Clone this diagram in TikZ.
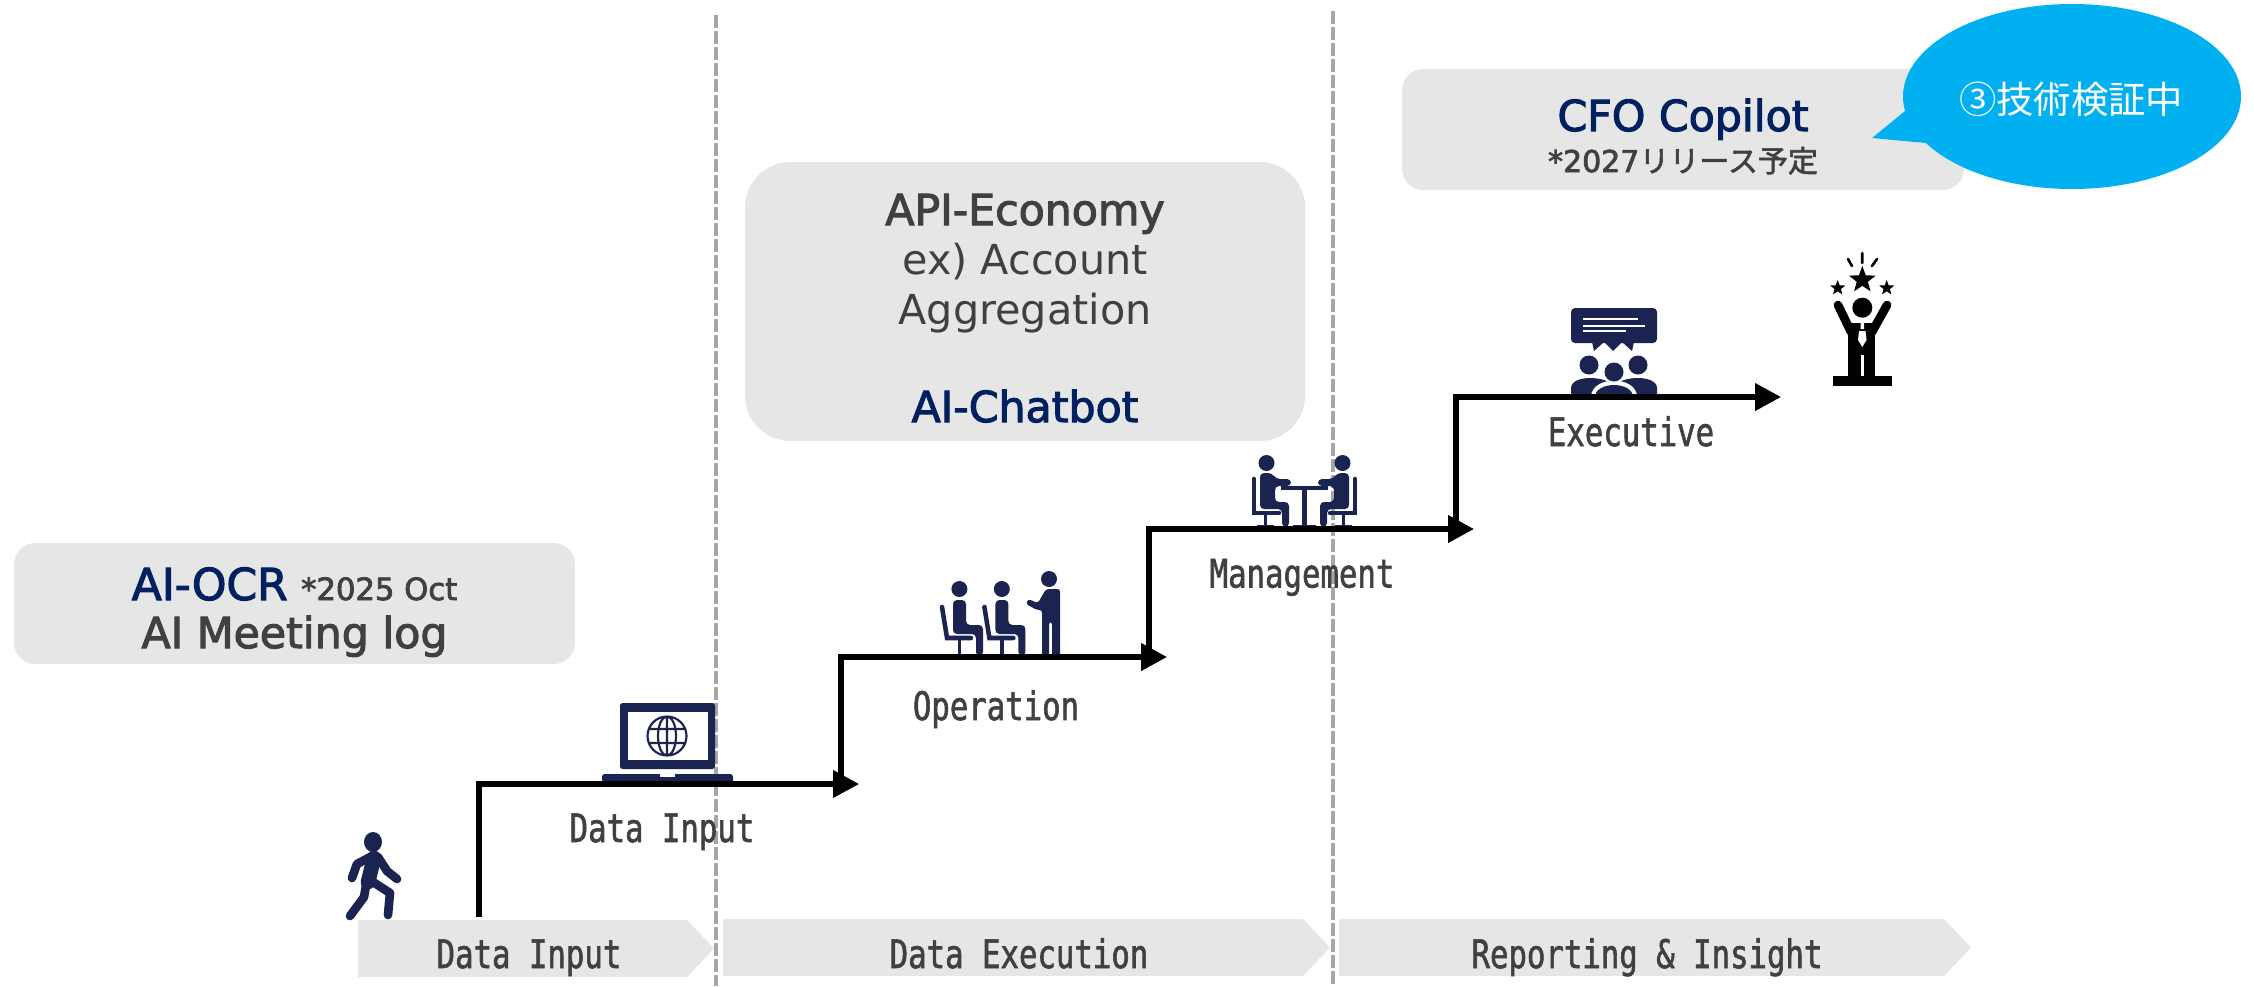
\documentclass[tikz,border=0pt]{standalone}
\usepackage{fontspec}
\usepackage{xcolor}
\usetikzlibrary{arrows.meta,shapes.geometric}
\setmainfont{DejaVu Sans}
\newfontfamily\heavyfont[FakeBold=2.5]{DejaVu Sans}
\newfontfamily\cjkfont{Noto Sans CJK JP}
\newfontfamily\cjkheavy[FakeBold=2]{Noto Sans CJK JP}
\newfontfamily\stagefont[FakeStretch=0.78,FakeBold=1.5]{DejaVu Sans Mono}
\definecolor{boxgray}{HTML}{E6E6E6}
\definecolor{textgray}{HTML}{404040}
\definecolor{titlenavy}{HTML}{002060}
\definecolor{iconnavy}{HTML}{1B2351}
\definecolor{calloutblue}{HTML}{00B0F0}
\definecolor{dashgray}{HTML}{A6A6A6}
\tikzset{
  capbox/.style={fill=boxgray,rounded corners=16pt},
  chevron/.style={fill=boxgray},
  phase/.style={dashgray,line width=3pt,dash pattern=on 9.4pt off 2.6pt},
  stepline/.style={line width=4pt,-{Triangle[length=19.5pt,width=20pt]}},
  steplabel/.style={anchor=base,text=textgray,inner sep=0pt,font=\stagefont\fontsize{29.5}{32}\selectfont},
  title/.style={anchor=base,text=titlenavy,inner sep=0pt,font=\heavyfont\fontsize{32}{36}\selectfont},
  body/.style={anchor=base,text=textgray,inner sep=0pt,font=\heavyfont\fontsize{32}{36}\selectfont},
  plainbody/.style={anchor=base,text=textgray,inner sep=0pt,font=\fontsize{31}{36}\selectfont},
  note/.style={anchor=base,text=textgray,inner sep=0pt,font=\heavyfont\fontsize{22.5}{26}\selectfont},
  limb/.style={iconnavy,line width=6.5pt,line cap=round,line join=round},
  thin limb/.style={iconnavy,line width=3.4pt,line cap=round},
  blackstar/.style={star,star points=5,star point ratio=2.4,fill=black,inner sep=0pt},
}
\begin{document}
\begin{tikzpicture}[x=0.75pt,y=0.75pt,yscale=-1,xscale=1]
\useasboundingbox (0,0) rectangle (2254,986);

%Shape: Phase Dividers
\draw [phase] (715.7,15) -- (715.7,986);
\draw [phase] (1333,11) -- (1333,986);

%Shape: Rounded Boxes
\fill [capbox] (14,543) rectangle (575,664);
\fill [capbox,rounded corners=34pt] (745,162) rectangle (1305,441);
\fill [capbox] (1402,69) rectangle (1964,190);

%Shape: Callout
\fill [calloutblue] (2072,96.5) ellipse (169 and 92.5);
\fill [calloutblue] (1905,111) -- (1872,138) -- (1926,143) -- (2000,120) -- cycle;

%Shape: Chevrons
\fill [chevron] (358,920) -- (687,920) -- (714,948.5) -- (687,977) -- (358,977) -- cycle;
\fill [chevron] (723,919) -- (1303,919) -- (1330,947.5) -- (1303,976) -- (723,976) -- cycle;
\fill [chevron] (1339,919) -- (1944,919) -- (1971,947.5) -- (1944,976) -- (1339,976) -- cycle;

%Shape: Walker
\fill [iconnavy] (373,842) ellipse (9 and 10);
\draw [limb,line width=11pt] (374,858) -- (368,882);
\draw [limb] (374,855) -- (357,864) -- (352,878);
\draw [limb] (378,857) -- (387,871) -- (397,879);
\draw [limb] (367,880) -- (364,897) -- (350,916);
\draw [limb] (370,880) -- (390,893) -- (388,915);

%Shape: Laptop
\fill [iconnavy,rounded corners=2pt] (620,703) rectangle (715,769);
\fill [white] (628,712) rectangle (708,760);
\fill [iconnavy,rounded corners=2pt] (602,774) rectangle (733,784);
\fill [white] (660,774) rectangle (675,777);
\draw [iconnavy,line width=1.6pt] (667,736) circle (19.5) (667,736) ellipse (9 and 19.5) (667,716.5) -- (667,755.5) (649,729) -- (685,729) (649,743) -- (685,743);

%Shape: Seated Listeners
\foreach \seatx in {0,42.4}{
  \fill [iconnavy] (959.4+\seatx,589) circle (8);
  \draw [thin limb] (942+\seatx,607) -- (947+\seatx,638) -- (971+\seatx,638);
  \draw [iconnavy,line width=2.6pt] (959.4+\seatx,638) -- (959.4+\seatx,656);
  \fill [iconnavy,rounded corners=3pt] (953+\seatx,600) -- (966+\seatx,600) -- (966+\seatx,625) -- (983+\seatx,625) -- (983+\seatx,656) -- (976+\seatx,656) -- (976+\seatx,634) -- (953+\seatx,634) -- cycle;
}
%Shape: Presenter
\fill [iconnavy] (1049,579) circle (8);
\fill [iconnavy,rounded corners=2pt] (1046,589) -- (1060,589) -- (1060,656) -- (1052,656) -- (1052,622) -- (1049,622) -- (1049,656) -- (1042,656) -- (1042,610) -- (1037,610) -- (1026,604) -- (1028,599) -- (1038,603) -- cycle;

%Shape: Meeting Pair
\foreach \side/\mirror in {0/1,2609/-1}{
  \begin{scope}[xshift=\side*0.75pt,xscale=\mirror]
    \fill [iconnavy] (1266.5,463) circle (8);
    \fill [iconnavy,rounded corners=3pt] (1260,473) -- (1272,473) -- (1276,479) -- (1291,479) -- (1291,486) -- (1275,486) -- (1275,502) -- (1289,502) -- (1289,527) -- (1282,527) -- (1282,509) -- (1260,509) -- cycle;
    \draw [thin limb] (1254,479) -- (1254,513) -- (1279,513);
    \draw [iconnavy,line width=2.6pt] (1265.6,513) -- (1265.6,526) (1257,527) -- (1274,527);
  \end{scope}
}
\draw [iconnavy,line width=2.6pt] (1281,488) -- (1328,488);
\draw [iconnavy,line width=3.2pt] (1304.5,488) -- (1304.5,527);
\draw [iconnavy,line width=2.6pt] (1293,527) -- (1316,527);

%Shape: Speech Group
\fill [iconnavy,rounded corners=3pt] (1571,308) rectangle (1657,343);
\fill [iconnavy] (1592,342) -- (1594,351) -- (1604,342) -- (1613,351) -- (1622,342) -- (1632,351) -- (1634,342) -- cycle;
\draw [white,line width=1.3pt] (1583,319.3) -- (1638,319.3) (1583,325.7) -- (1645,325.7) (1583,331.3) -- (1626,331.3);
\fill [iconnavy] (1589,365) circle (9.5) (1638,365) circle (9.5);
\fill [iconnavy] (1571,397) -- (1571,388) .. controls (1571,381) and (1581,378) .. (1590,378) .. controls (1600,378) and (1610,381) .. (1614,386) .. controls (1618,381) and (1628,378) .. (1638,378) .. controls (1647,378) and (1657,381) .. (1657,388) -- (1657,397) -- cycle;
\fill [white] (1591,397) .. controls (1591,386) and (1603,380.5) .. (1614,380.5) .. controls (1625,380.5) and (1637,386) .. (1637,397) -- cycle;
\fill [iconnavy] (1595,397) .. controls (1595,389) and (1605,385) .. (1614,385) .. controls (1623,385) and (1633,389) .. (1633,397) -- cycle;
\fill [iconnavy] (1614,372) circle (9.5);

%Shape: Winner
\fill [black] (1833,376) rectangle (1892,386);
\fill [black] (1848,323) rectangle (1875,377);
\fill [black] (1862.3,307.7) circle (10);
\draw [black,line width=6.5pt,line cap=round] (1851,332) -- (1838,305) (1872,332) -- (1887,305);
\fill [white] (1860.5,323) rectangle (1864,329) (1859,331) -- (1865.5,331) -- (1866.5,340) -- (1862.3,347) -- (1858,340) -- cycle;
\fill [white] (1861,355) rectangle (1863.7,376);
\draw [black,line width=2pt,line cap=round] (1862.3,253) -- (1862.3,263) (1848,259) -- (1852,266) (1877,259) -- (1872,266);
\node [blackstar,minimum size=21pt] (bigstar) at (1862.3,280) {};
\node [blackstar,minimum size=12pt] (leftstar) at (1837.7,288) {};
\node [blackstar,minimum size=12pt] (rightstar) at (1886.7,288) {};

%Shape: Steps
\coordinate (walkfoot) at (479,917);
\coordinate (inputend) at (859,784);
\coordinate (opstart) at (841,786);
\coordinate (opend) at (1167,657);
\coordinate (mgmtstart) at (1149,659);
\coordinate (mgmtend) at (1474,529);
\coordinate (execstart) at (1456,531);
\coordinate (execend) at (1781,397);
\draw [stepline] (walkfoot) |- (inputend);
\draw [stepline] (opstart) |- (opend);
\draw [stepline] (mgmtstart) |- (mgmtend);
\draw [stepline] (execstart) |- (execend);

% Text Node
\draw (294.5,600) node [anchor=base,inner sep=0pt] (ocrlabel) {{\heavyfont\fontsize{33}{36}\selectfont\color{titlenavy}AI-OCR}\hspace{10pt}{\heavyfont\fontsize{23}{26}\selectfont\color{textgray}*2025 Oct}};
% Text Node
\draw (294.5,648) node [body] (meetinglabel) {AI Meeting log};
% Text Node
\draw (1025,225) node [body] (apilabel) {API-Economy};
% Text Node
\draw (1025,274) node [plainbody] (accountlabel) {ex) Account};
% Text Node
\draw (1025,324) node [plainbody] (aggregationlabel) {Aggregation};
% Text Node
\draw (1025,422) node [title] (chatbotlabel) {AI-Chatbot};
% Text Node
\draw (1683,131) node [title] (cfolabel) {CFO Copilot};
% Text Node
\draw (1683,172) node [note] (releaselabel) {*2027{\cjkheavy リリース予定}};
% Text Node
\draw (2071,99) node [text=white,inner sep=0pt,font=\cjkfont\fontsize{28}{30}\selectfont] (statuslabel) {③技術検証中};
% Text Node
\draw (662,842) node [steplabel] (inputstep) {Data Input};
% Text Node
\draw (996,720) node [steplabel] (opstep) {Operation};
% Text Node
\draw (1302,587.5) node [steplabel] (mgmtstep) {Management};
% Text Node
\draw (1631,446) node [steplabel] (execstep) {Executive};
% Text Node
\draw (529,968) node [steplabel] (inputphase) {Data Input};
% Text Node
\draw (1019,968) node [steplabel] (execphase) {Data Execution};
% Text Node
\draw (1647,968) node [steplabel] (reportphase) {Reporting \& Insight};

\end{tikzpicture}
\end{document}
